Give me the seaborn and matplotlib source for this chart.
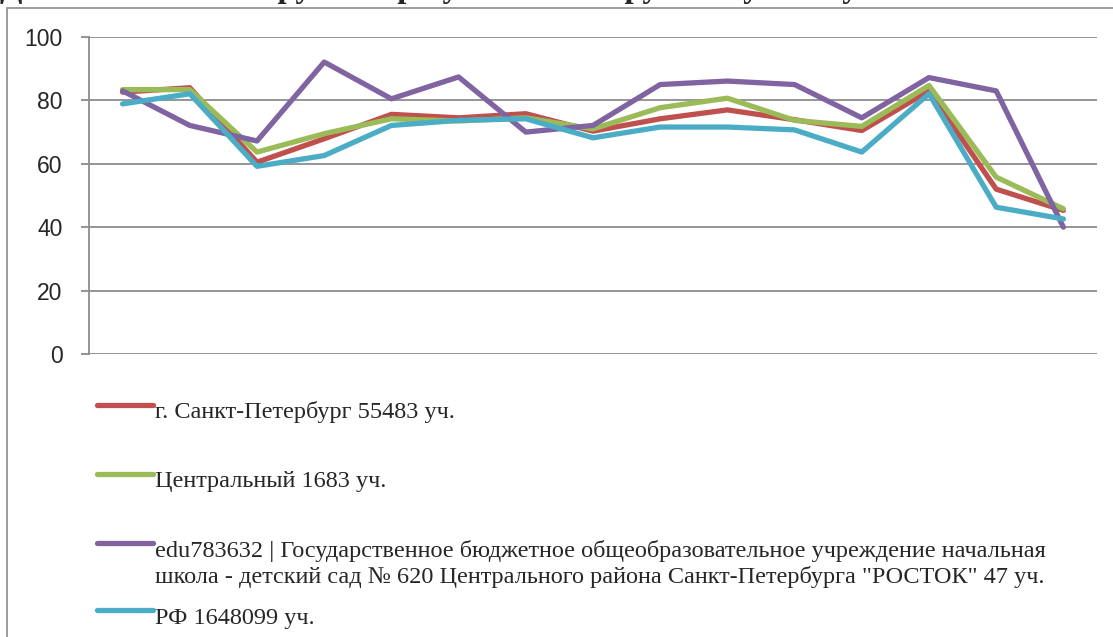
import numpy as np
import pandas as pd
import matplotlib
matplotlib.use('Agg')
import matplotlib.pyplot as plt
import seaborn as sns
from matplotlib.lines import Line2D
from matplotlib.patches import Rectangle

sns.set_style("white")
plt.rcParams['font.family'] = ['Liberation Sans', 'DejaVu Sans']

# данные (%)
tasks = list(range(1, 16))
spb = [82.6, 84.0, 60.5, 67.9, 75.6, 74.5, 75.8, 70.3, 74.2, 77.0, 73.9, 70.5, 83.0, 52.0, 45.3]
central = [83.4, 83.4, 63.7, 69.5, 74.2, 73.5, 74.5, 71.0, 77.7, 80.7, 73.7, 71.8, 84.7, 55.8, 45.8]
school = [83.0, 72.1, 67.2, 92.1, 80.5, 87.4, 70.0, 72.1, 85.0, 86.1, 85.0, 74.5, 87.2, 83.0, 40.0]
rf = [78.9, 82.1, 59.2, 62.6, 72.1, 73.7, 74.2, 68.2, 71.6, 71.6, 70.7, 63.7, 82.1, 46.3, 42.6]

series_names = [
    'г. Санкт-Петербург 55483 уч.',
    'Центральный 1683 уч.',
    'edu783632 | Государственное бюджетное общеобразовательное учреждение начальная\n'
    'школа - детский сад № 620 Центрального района Санкт-Петербурга "РОСТОК" 47 уч.',
    'РФ 1648099 уч.',
]
colors = ['#C0504D', '#9BBB59', '#8064A2', '#4BACC6']
title = 'Достижение планируемых результатов по русскому языку'

rows = []
for name, vals in zip(series_names, [spb, central, school, rf]):
    for i, v in enumerate(vals):
        rows.append({'Задание': i, 'Процент': v, 'Группа': name})
df = pd.DataFrame(rows)

W, H = 1113, 637
fig = plt.figure(figsize=(W / 100, H / 100), dpi=100)

# рамка области диаграммы
fig.patches.append(Rectangle((7 / W, -0.1), 1.2, 1.1 - 8 / H, transform=fig.transFigure,
                             fill=False, edgecolor='#8C8C8C', linewidth=1.2))

ax = fig.add_axes([89 / W, 1 - 354 / H, (1097 - 89) / W, (354 - 37) / H])
sns.lineplot(data=df, x='Задание', y='Процент', hue='Группа', palette=colors,
             linewidth=3.8, ax=ax, legend=False, sort=False)

ax.set_xlim(-0.5, len(tasks) - 0.5)
ax.set_ylim(0, 100)
ax.set_yticks([0, 20, 40, 60, 80, 100])
ax.set_xticks([])
ax.set_xlabel('')
ax.set_ylabel('')
ax.grid(axis='y', color='#8C8C8C', linewidth=1.3)
ax.set_axisbelow(True)
for s in ['top', 'right', 'bottom']:
    ax.spines[s].set_visible(False)
ax.spines['left'].set_color('#8C8C8C')
ax.spines['left'].set_linewidth(1.3)
ax.tick_params(axis='y', direction='out', length=6, width=1.3, color='#8C8C8C',
               labelsize=16.5, pad=13, left=True)

# заголовок (обрезан сверху, как в оригинале)
fig.text(0.0, 1 + 2.5 / H, title, fontsize=23.5, fontweight='bold', va='baseline', ha='left',
         family=['Liberation Serif', 'DejaVu Serif'])

# легенда: y линии и y базовой линии последней строки подписи
leg_line_y = [405, 474, 543, 610]
leg_text_y = [418, 487, 583, 624]
for name, c, ly, ty in zip(series_names, colors, leg_line_y, leg_text_y):
    fig.add_artist(Line2D([97 / W, 153 / W], [1 - ly / H, 1 - ly / H], transform=fig.transFigure,
                          color=c, linewidth=3.8, solid_capstyle='round'))
    fig.text(155 / W, 1 - ty / H, name, fontsize=17.5, va='baseline', ha='left',
             family=['Liberation Serif', 'DejaVu Serif'], linespacing=1.25)

fig.savefig('out.png', dpi=100)
